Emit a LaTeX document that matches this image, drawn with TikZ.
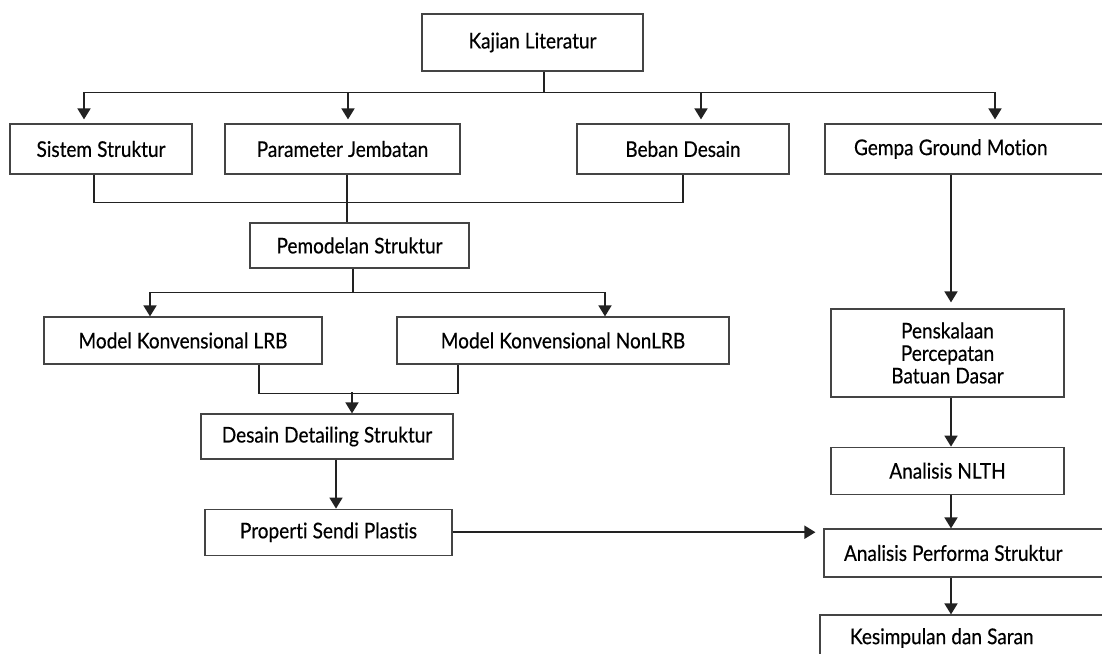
\documentclass[tikz,border=0pt]{standalone}
\usepackage{fontspec}
\setmainfont{Lato}[FakeStretch=0.88, FakeBold=0.4, WordSpace=1.05, Ligatures=NoCommon]
\usepackage{tikz}
\usetikzlibrary{arrows.meta,positioning}
\definecolor{lineDark}{HTML}{222222}
\definecolor{boxEdge}{HTML}{444444}

\begin{document}
\begin{tikzpicture}[
  x=0.02cm, y=-0.02cm,
  box/.style={draw=boxEdge, line width=0.7pt, fill=white,
              font=\fontsize{12.3}{12.8}\selectfont, align=center,
              inner sep=0pt},
  cut/.style={box, align=flush left, minimum height=0.96cm},
  ln/.style={lineDark, line width=1pt},
  arr/.style={-{Triangle[width=0.26cm,length=0.22cm]}, lineDark, line width=1pt}
]
\clip (0,0) rectangle (1102,653);
\fill[white] (0,0) rectangle (1102,653);

\node[box, minimum width=4.42cm, minimum height=1.14cm] (kajian) at (532.5,42.5) {Kajian Literatur};
\node[box, minimum width=3.64cm, minimum height=1.0cm] (sistem) at (101,149) {Sistem Struktur};
\node[box, minimum width=4.70cm, minimum height=1.0cm] (param)  at (342.5,149) {Parameter Jembatan};
\node[box, minimum width=4.24cm, minimum height=1.0cm] (beban)  at (683,149) {Beban Desain};
\node[cut, minimum height=1.0cm, inner xsep=0.58cm, text width=4.58cm] (gempa) at (968.5,149) {Gempa Ground Motion};
\node[box, minimum width=4.38cm, minimum height=0.90cm] (pemodelan) at (359.5,245.5) {Pemodelan Struktur};
\node[box, minimum width=5.56cm, minimum height=0.94cm] (lrb)    at (183,340.5) {Model Konvensional LRB};
\node[box, minimum width=6.64cm, minimum height=0.94cm] (nonlrb) at (563,340.5) {Model Konvensional NonLRB};
\node[box, minimum width=5.04cm, minimum height=0.90cm] (desain) at (327,436.5) {Desain Detailing Struktur};
\node[box, minimum width=4.94cm, minimum height=0.92cm, below=0.98cm of desain, xshift=0.03cm] (properti) {Properti Sendi Plastis};
\node[box, minimum width=4.66cm, minimum height=1.76cm] (skala) at (947.5,353) {Penskalaan\\Percepatan\\Batuan Dasar};
\node[box, minimum width=4.66cm, minimum height=0.94cm, below=0.98cm of skala] (nlth) {Analisis NLTH};
\node[cut, inner xsep=0.40cm, text width=4.96cm] (performa) at (968,553) {Analisis Performa Struktur};
\node[cut, inner xsep=0.60cm, text width=4.64cm, minimum height=0.92cm] (simpulan) at (966,638) {Kesimpulan dan Saran};

\draw[ln] ([xshift=0.23cm]kajian.south) -- ++(0,21) coordinate (bus1);
\draw[arr, shorten >=0.08cm] (bus1) -| ([xshift=-0.34cm]sistem.north);
\draw[arr, shorten >=0.08cm] (bus1) -| ([xshift=0.11cm]param.north);
\draw[arr, shorten >=0.08cm] (bus1) -| ([xshift=0.36cm]beban.north);
\draw[arr, shorten >=0.08cm] (bus1) -| ([xshift=0.53cm]gempa.north);

\draw[ln] ([xshift=-0.14cm]sistem.south) |- ([yshift=-0.56cm]beban.south) -- (beban.south);
\draw[ln] ([xshift=0.09cm]param.south) -- ([xshift=0.09cm]param.south |- pemodelan.north);

\draw[ln] ([xshift=-0.13cm]pemodelan.south) -- ++(0,24) coordinate (bus2);
\draw[arr] (bus2) -| ([xshift=-0.66cm]lrb.north);
\draw[arr] (bus2) -| ([xshift=0.84cm]nonlrb.north);

\draw[ln] ([xshift=1.52cm]lrb.south) |- ([xshift=-2.1cm,yshift=-0.58cm]nonlrb.south) -- ([xshift=-2.1cm]nonlrb.south);
\draw[arr] ([xshift=0.5cm,yshift=0.42cm]desain.north) -- ([xshift=0.5cm]desain.north);
\draw[arr] ([xshift=0.18cm]desain.south) -- ([xshift=0.18cm]desain.south |- properti.north);
\draw[arr] (properti.east) -- ([xshift=-0.16cm]properti.east -| performa.west);

\draw[arr, shorten >=0.12cm] ([xshift=0.07cm]skala.north |- gempa.south) -- ([xshift=0.07cm]skala.north);
\draw[arr] ([xshift=0.07cm]skala.south) -- ([xshift=0.07cm]nlth.north);
\draw[arr] ([xshift=0.07cm]nlth.south) -- ([xshift=0.07cm]nlth.south |- performa.north);
\draw[arr] ([xshift=0.07cm]nlth.south |- performa.south) -- ([xshift=0.07cm]nlth.south |- simpulan.north);
\end{tikzpicture}
\end{document}
